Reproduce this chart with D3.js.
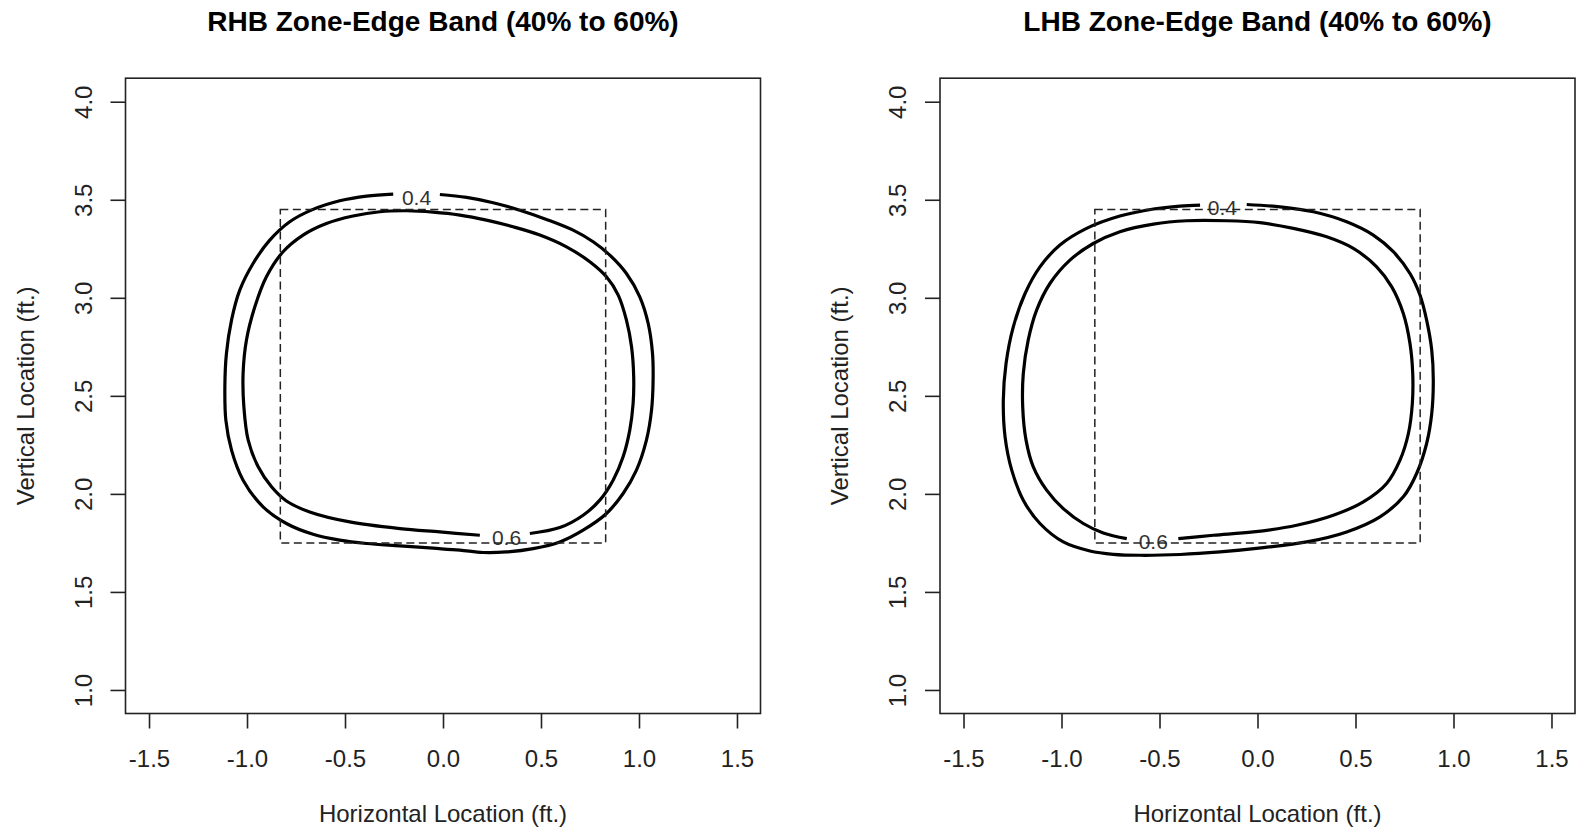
<!DOCTYPE html>
<html>
<head>
<meta charset="utf-8">
<script src="https://cdn.jsdelivr.net/npm/d3@7"></script>
<style>
  body { margin: 0; background: #fff; }
  svg { display: block; font-family: "Liberation Sans", Arial, sans-serif; }
</style>
</head>
<body>
<svg id="svg-main"></svg>
<script>
const panelTitles = ["RHB Zone-Edge Band (40% to 60%)", "LHB Zone-Edge Band (40% to 60%)"];
const xLabel = "Horizontal Location (ft.)";
const yLabel = "Vertical Location (ft.)";
const xTicks = [-1.5, -1.0, -0.5, 0.0, 0.5, 1.0, 1.5];
const yTicks = [1.0, 1.5, 2.0, 2.5, 3.0, 3.5, 4.0];
const xLim = [-1.5, 1.5];
const yLim = [1.0, 4.0];

// strike zone (dashed box)
const zoneX = [-0.83, 0.83];
const zoneY = [1.75, 3.45];

// contours, each starts/ends at its label gap
const rhbLevel04 = [
  [-0.016, 3.527], [0.120, 3.512], [0.256, 3.485], [0.392, 3.447], [0.528, 3.400],
  [0.664, 3.345], [0.766, 3.286], [0.851, 3.218], [0.936, 3.124], [1.004, 3.005],
  [1.047, 2.869], [1.069, 2.716], [1.072, 2.580], [1.064, 2.427], [1.038, 2.274],
  [0.987, 2.121], [0.919, 2.002], [0.834, 1.900], [0.715, 1.815], [0.596, 1.755],
  [0.460, 1.721], [0.324, 1.704], [0.205, 1.701], [0.086, 1.713], [-0.050, 1.723],
  [-0.220, 1.735], [-0.390, 1.747], [-0.527, 1.764], [-0.663, 1.794], [-0.799, 1.849],
  [-0.918, 1.934], [-1.020, 2.070], [-1.079, 2.223], [-1.108, 2.376], [-1.113, 2.546],
  [-1.105, 2.716], [-1.079, 2.886], [-1.037, 3.039], [-0.969, 3.175], [-0.884, 3.294],
  [-0.782, 3.388], [-0.663, 3.451], [-0.527, 3.495], [-0.390, 3.519], [-0.254, 3.529]
];
const rhbLevel06 = [
  [0.443, 1.798], [0.596, 1.828], [0.715, 1.891], [0.800, 1.968], [0.868, 2.070],
  [0.919, 2.189], [0.953, 2.325], [0.970, 2.461], [0.973, 2.597], [0.962, 2.750],
  [0.936, 2.886], [0.894, 3.014], [0.834, 3.107], [0.749, 3.184], [0.630, 3.260],
  [0.494, 3.320], [0.358, 3.362], [0.222, 3.396], [0.086, 3.422], [-0.050, 3.437],
  [-0.186, 3.444], [-0.322, 3.439], [-0.459, 3.417], [-0.595, 3.379], [-0.714, 3.320],
  [-0.816, 3.235], [-0.901, 3.107], [-0.960, 2.954], [-1.003, 2.784], [-1.020, 2.614],
  [-1.016, 2.444], [-0.994, 2.274], [-0.943, 2.138], [-0.875, 2.036], [-0.799, 1.964],
  [-0.680, 1.908], [-0.476, 1.857], [-0.220, 1.823], [-0.016, 1.806], [0.188, 1.789]
];
const lhbLevel04 = [
  [-0.055, 3.476], [0.115, 3.464], [0.285, 3.439], [0.455, 3.388], [0.591, 3.320],
  [0.693, 3.235], [0.778, 3.124], [0.829, 3.014], [0.863, 2.886], [0.889, 2.733],
  [0.897, 2.580], [0.889, 2.410], [0.863, 2.257], [0.812, 2.104], [0.744, 1.985],
  [0.625, 1.883], [0.455, 1.806], [0.251, 1.755], [0.030, 1.726], [-0.191, 1.704],
  [-0.395, 1.691], [-0.599, 1.687], [-0.736, 1.692], [-0.855, 1.709], [-0.991, 1.755],
  [-1.110, 1.849], [-1.195, 1.968], [-1.254, 2.121], [-1.288, 2.291], [-1.297, 2.478],
  [-1.283, 2.665], [-1.246, 2.852], [-1.186, 3.022], [-1.110, 3.158], [-1.008, 3.269],
  [-0.872, 3.354], [-0.702, 3.417], [-0.531, 3.453], [-0.395, 3.468], [-0.293, 3.473]
];
const lhbLevel06 = [
  [-0.404, 1.772], [-0.225, 1.789], [-0.021, 1.806], [0.200, 1.840], [0.387, 1.891],
  [0.540, 1.959], [0.659, 2.053], [0.727, 2.172], [0.770, 2.308], [0.790, 2.461],
  [0.792, 2.614], [0.778, 2.767], [0.744, 2.920], [0.685, 3.056], [0.608, 3.158],
  [0.489, 3.252], [0.353, 3.311], [0.183, 3.354], [0.013, 3.383], [-0.157, 3.393],
  [-0.361, 3.393], [-0.531, 3.376], [-0.702, 3.337], [-0.838, 3.277], [-0.957, 3.192],
  [-1.059, 3.073], [-1.127, 2.937], [-1.170, 2.784], [-1.195, 2.614], [-1.198, 2.444],
  [-1.181, 2.274], [-1.144, 2.138], [-1.076, 2.019], [-0.991, 1.925], [-0.889, 1.849],
  [-0.787, 1.801], [-0.667, 1.772]
];

// contour labels: text, x, y
const rhbLabels = [["0.4", -0.135, 3.51], ["0.6", 0.324, 1.777]];
const lhbLabels = [["0.4", -0.179, 3.463], ["0.6", -0.532, 1.756]];

var Dims = {
    Svg: { Width: 1580, Height: 836 },
    Panel: { Lefts: [125.5, 940], Top: 78.2, Width: 635, Height: 635.3 },
    TickLen: 15
};

var panels = [
    { title: panelTitles[0], contours: [rhbLevel04, rhbLevel06], labels: rhbLabels },
    { title: panelTitles[1], contours: [lhbLevel04, lhbLevel06], labels: lhbLabels }
];

var svg = d3.select("#svg-main")
    .attr("width", Dims.Svg.Width)
    .attr("height", Dims.Svg.Height);

svg.append("rect")
    .attr("width", Dims.Svg.Width)
    .attr("height", Dims.Svg.Height)
    .attr("fill", "#fff");

panels.forEach(function (p, i) {
    drawPanel(p, Dims.Panel.Lefts[i]);
});

// R style 4% axis extension
function extend(lim) {
    var d = (lim[1] - lim[0]) * 0.04;
    return [lim[0] - d, lim[1] + d];
}

function drawPanel(p, left) {
    var w = Dims.Panel.Width, h = Dims.Panel.Height;
    var x = d3.scaleLinear().domain(extend(xLim)).range([0, w]);
    var y = d3.scaleLinear().domain(extend(yLim)).range([h, 0]);

    var g = svg.append("g")
        .attr("transform", `translate(${left},${Dims.Panel.Top})`);

    // x axis
    var gx = g.append("g")
        .attr("transform", `translate(0,${h})`)
        .call(d3.axisBottom(x)
            .tickValues(xTicks)
            .tickSize(Dims.TickLen)
            .tickFormat(d => d.toFixed(1)));
    gx.select(".domain").remove();
    gx.selectAll("line").attr("stroke", "#222").attr("stroke-width", 1.6);
    gx.selectAll("text")
        .attr("y", 53.5)
        .attr("dy", 0)
        .attr("fill", "#222")
        .style("font-size", "24px");

    // y axis, labels parallel to the axis
    var gy = g.append("g")
        .call(d3.axisLeft(y)
            .tickValues(yTicks)
            .tickSize(Dims.TickLen)
            .tickFormat(d => d.toFixed(1)));
    gy.select(".domain").remove();
    gy.selectAll("line").attr("stroke", "#222").attr("stroke-width", 1.6);
    gy.selectAll("text")
        .attr("transform", "rotate(-90)")
        .attr("x", 0)
        .attr("y", -34)
        .attr("dy", 0)
        .attr("text-anchor", "middle")
        .attr("fill", "#222")
        .style("font-size", "24px");

    gx.attr("font-family", null).attr("font-size", null);
    gy.attr("font-family", null).attr("font-size", null);

    // box
    g.append("rect")
        .attr("width", w)
        .attr("height", h)
        .attr("fill", "none")
        .attr("stroke", "#222")
        .attr("stroke-width", 1.6);

    // contours
    var line = d3.line()
        .x(d => x(d[0]))
        .y(d => y(d[1]))
        .curve(d3.curveCatmullRom.alpha(0.5));

    g.selectAll("path.contour")
        .data(p.contours)
        .enter()
        .append("path")
        .attr("class", "contour")
        .attr("d", line)
        .attr("fill", "none")
        .attr("stroke", "#000")
        .attr("stroke-width", 3.2)
        .attr("stroke-linejoin", "round");

    g.selectAll("text.clabel")
        .data(p.labels)
        .enter()
        .append("text")
        .attr("class", "clabel")
        .attr("x", d => x(d[1]))
        .attr("y", d => y(d[2]))
        .attr("dy", "0.36em")
        .attr("text-anchor", "middle")
        .attr("fill", "#333")
        .style("font-size", "21px")
        .text(d => d[0]);

    // strike zone
    g.append("rect")
        .attr("x", x(zoneX[0]))
        .attr("y", y(zoneY[1]))
        .attr("width", x(zoneX[1]) - x(zoneX[0]))
        .attr("height", y(zoneY[0]) - y(zoneY[1]))
        .attr("fill", "none")
        .attr("stroke", "#222")
        .attr("stroke-width", 1.5)
        .attr("stroke-dasharray", "8,4.5");

    // title and axis labels
    g.append("text")
        .attr("x", w / 2)
        .attr("y", 31 - Dims.Panel.Top)
        .attr("text-anchor", "middle")
        .style("font-size", "28px")
        .style("font-weight", "bold")
        .text(p.title);

    g.append("text")
        .attr("x", w / 2)
        .attr("y", 822 - Dims.Panel.Top)
        .attr("text-anchor", "middle")
        .attr("fill", "#222")
        .style("font-size", "24px")
        .text(xLabel);

    g.append("text")
        .attr("transform", `translate(-92,${h / 2}) rotate(-90)`)
        .attr("text-anchor", "middle")
        .attr("fill", "#222")
        .style("font-size", "24px")
        .text(yLabel);
}
</script>
</body>
</html>
